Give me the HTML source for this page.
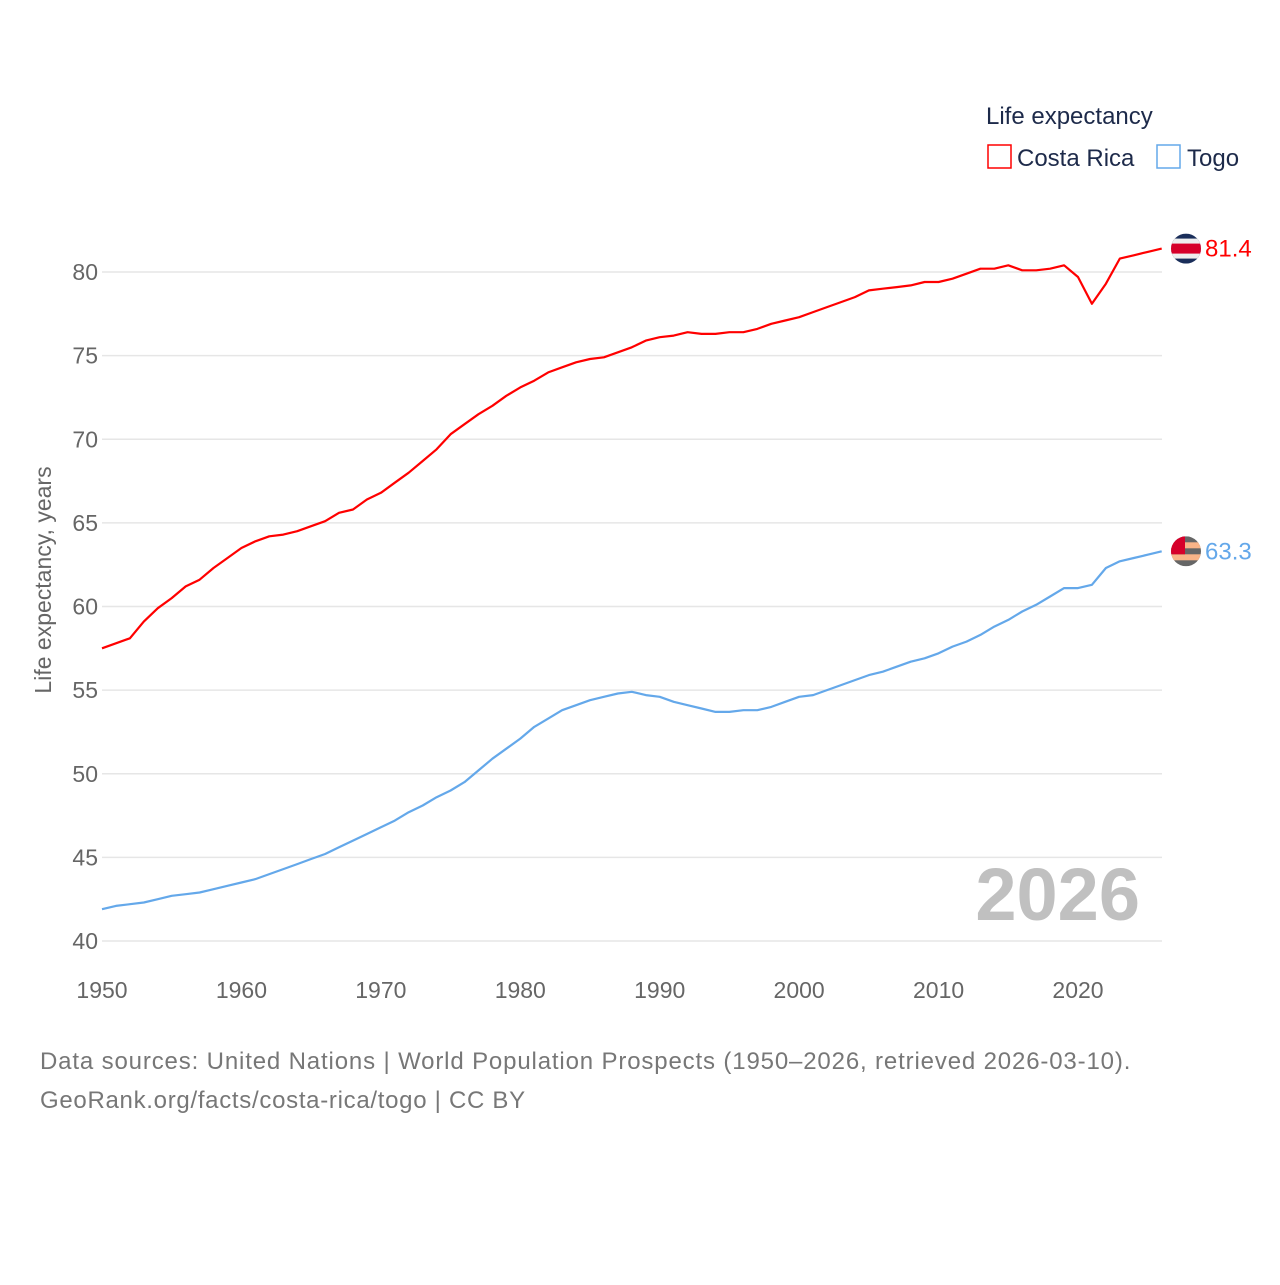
<!DOCTYPE html>
<html><head><meta charset="utf-8"><style>
body{margin:0;background:#fff;width:1280px;height:1280px;overflow:hidden;font-family:"Liberation Sans",sans-serif}
svg text{font-family:"Liberation Sans",sans-serif}
</style></head><body>
<svg id="chart" width="1280" height="1280" xmlns="http://www.w3.org/2000/svg">
<text x="986" y="124" font-size="24" fill="#1d2a4a">Life expectancy</text>
<g><rect x="988" y="145" width="23" height="23" fill="none" stroke="#ff0000" stroke-width="1.5"/><text x="1017" y="166" font-size="24" fill="#1d2a4a">Costa Rica</text></g>
<g><rect x="1157" y="145" width="23" height="23" fill="none" stroke="#64a8ea" stroke-width="1.5"/><text x="1187" y="166" font-size="24" fill="#1d2a4a">Togo</text></g>
<g id="grid"></g>
<g id="yt"></g>
<g id="xt"></g>
<text transform="translate(51,580) rotate(-90)" text-anchor="middle" font-size="23" fill="#666">Life expectancy, years</text>
<text x="1140" y="920" text-anchor="end" font-size="74" font-weight="bold" fill="#c0c0c0">2026</text>
<g id="series"></g>
<text x="40" y="1069" font-size="24" letter-spacing="0.85" fill="#777">Data sources: United Nations | World Population Prospects (1950–2026, retrieved 2026-03-10).</text>
<text x="40" y="1108" font-size="24" letter-spacing="0.7" fill="#777">GeoRank.org/facts/costa-rica/togo | CC BY</text>
</svg>
<script>
const years=[];for(let y=1950;y<=2026;y++)years.push(y);
const costaRica=[57.5,57.8,58.1,59.1,59.9,60.5,61.2,61.6,62.3,62.9,63.5,63.9,64.2,64.3,64.5,64.8,65.1,65.6,65.8,66.4,66.8,67.4,68.0,68.7,69.4,70.3,70.9,71.5,72.0,72.6,73.1,73.5,74.0,74.3,74.6,74.8,74.9,75.2,75.5,75.9,76.1,76.2,76.4,76.3,76.3,76.4,76.4,76.6,76.9,77.1,77.3,77.6,77.9,78.2,78.5,78.9,79.0,79.1,79.2,79.4,79.4,79.6,79.9,80.2,80.2,80.4,80.1,80.1,80.2,80.4,79.7,78.1,79.3,80.8,81.0,81.2,81.4];
const togo=[41.9,42.1,42.2,42.3,42.5,42.7,42.8,42.9,43.1,43.3,43.5,43.7,44.0,44.3,44.6,44.9,45.2,45.6,46.0,46.4,46.8,47.2,47.7,48.1,48.6,49.0,49.5,50.2,50.9,51.5,52.1,52.8,53.3,53.8,54.1,54.4,54.6,54.8,54.9,54.7,54.6,54.3,54.1,53.9,53.7,53.7,53.8,53.8,54.0,54.3,54.6,54.7,55.0,55.3,55.6,55.9,56.1,56.4,56.7,56.9,57.2,57.6,57.9,58.3,58.8,59.2,59.7,60.1,60.6,61.1,61.1,61.3,62.3,62.7,62.9,63.1,63.3];
const yTicks=[40,45,50,55,60,65,70,75,80];
const xTicks=[1950,1960,1970,1980,1990,2000,2010,2020];
const NS="http://www.w3.org/2000/svg";
const X=y=>102+(y-1950)*(1078-102)/70;
const Y=v=>941-(v-40)*(941-272)/40;
function mk(tag,attrs,parent){const e=document.createElementNS(NS,tag);for(const k in attrs)e.setAttribute(k,attrs[k]);parent.appendChild(e);return e;}
const grid=document.getElementById('grid'),yt=document.getElementById('yt'),xt=document.getElementById('xt'),ser=document.getElementById('series');
yTicks.forEach(v=>{
  const l=mk('line',{x1:102,x2:1162,y1:Y(v),y2:Y(v),stroke:'#e6e6e6','stroke-width':1.5},grid);
  
  
  const t=mk('text',{x:98,y:Y(v)+8,'text-anchor':'end','font-size':23,fill:'#666'},yt);t.textContent=v;
  
  
});
xTicks.forEach(v=>{
  const t=mk('text',{x:X(v),y:998,'text-anchor':'middle','font-size':23,fill:'#666'},xt);t.textContent=v;
  
  
});
function series(vals,color,name,flag){
  const d=vals.map((v,i)=>(i?'L':'M')+X(years[i]).toFixed(1)+','+Y(v).toFixed(1)).join('');
  const p=mk('path',{d:d,fill:'none',stroke:color,'stroke-width':2.2,'stroke-linejoin':'round'},ser);
  
  
  const lv=vals[vals.length-1],cy=Y(lv),cx=1186;
  const g=mk('g',{},ser);
  
  
  const cid='c'+name;
  const cp=mk('clipPath',{id:cid},g);mk('circle',{cx:cx,cy:cy,r:15},cp);
  const fg=mk('g',{'clip-path':'url(#'+cid+')'},g);
  flag.forEach(s=>mk('rect',{x:cx-15+s[0],y:cy-15+s[1],width:s[2],height:s[3],fill:s[4]},fg));
  const t=mk('text',{x:1205,y:cy+8,'font-size':24,fill:color},ser);t.textContent=lv.toFixed(1);
  
  
}
series(costaRica,'#ff0000','costa-rica',[[0,0,30,30,'#1a2e5a'],[0,5,30,20,'#eee'],[0,10,30,10,'#d6002a']]);
series(togo,'#64a8ea','togo',[[0,0,30,30,'#666'],[0,6,30,6,'#f9b488'],[0,18,30,6,'#f9b488'],[0,0,14,18,'#d6002a']]);
</script>
</body></html>
